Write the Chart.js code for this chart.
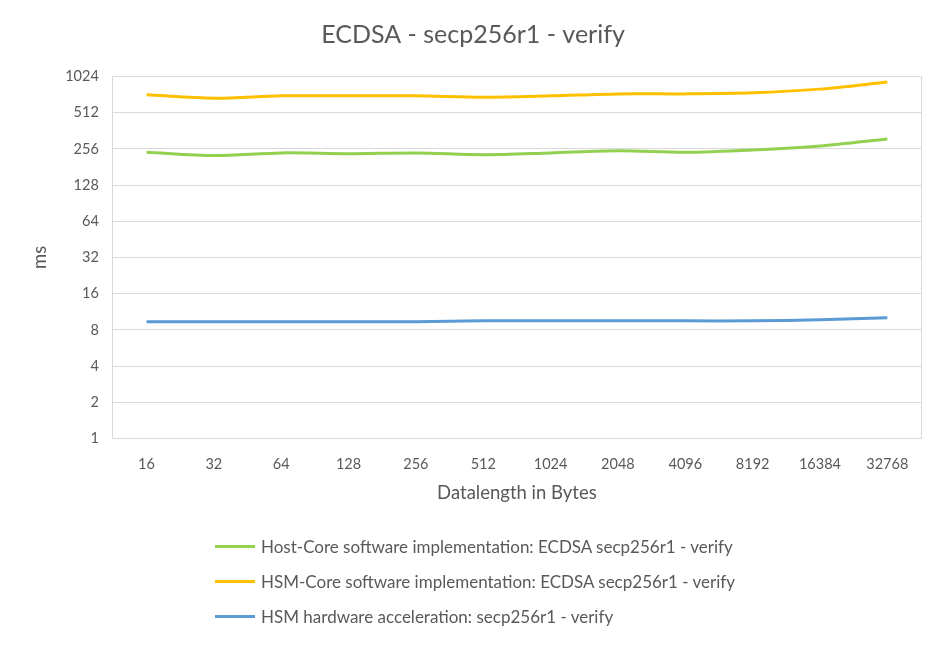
<!DOCTYPE html>
<html>
<head>
<meta charset="utf-8">
<script src="https://cdn.jsdelivr.net/npm/chart.js@4.4.1/dist/chart.umd.min.js"></script>
<style>
  html, body { margin: 0; padding: 0; background: #fff; }
  #wrap { position: relative; width: 944px; height: 645px; }
  #legend { position: absolute; left: 215px; top: 529px; font-family: Lato, sans-serif; font-size: 17px; color: #595959; }
  .item { height: 35px; display: flex; align-items: center; }
  .swatch { width: 40px; height: 3px; margin-right: 6px; }
</style>
</head>
<body>
<div id="wrap">
  <canvas id="myChart" width="944" height="645"></canvas>
  <div id="legend"></div>
</div>
<script>
// data
const labels = ["16", "32", "64", "128", "256", "512", "1024", "2048", "4096", "8192", "16384", "32768"];
const hostCore = [240, 225, 237, 233, 237, 229, 237, 247, 240, 251, 271, 310];
const hsmCore = [721, 676, 707, 707, 707, 689, 707, 734, 734, 749, 804, 920];
const hsmHw = [9.35, 9.35, 9.35, 9.35, 9.35, 9.5, 9.5, 9.5, 9.5, 9.5, 9.7, 10.1];
const yTicks = [1, 2, 4, 8, 16, 32, 64, 128, 256, 512, 1024];

const seriesNames = [
  "Host-Core software implementation: ECDSA secp256r1 - verify",
  "HSM-Core software implementation: ECDSA secp256r1 - verify",
  "HSM hardware acceleration: secp256r1 - verify",
];
const colors = ["#92D050", "#FFC000", "#5B9BD5"];

const textColor = "#595959";
const gridColor = "#D9D9D9";
const font = "Lato, sans-serif";

let ctx = document.getElementById("myChart").getContext("2d");
let myChart = new Chart(ctx, {
  type: "line",
  data: {
    labels: labels,
    datasets: [hostCore, hsmCore, hsmHw].map((d, i) => ({
      label: seriesNames[i],
      data: d,
      borderColor: colors[i],
      backgroundColor: colors[i],
      borderWidth: 3,
      pointRadius: 0,
      tension: 0.3,
    })),
  },
  options: {
    responsive: false,
    animation: false,
    layout: { padding: { top: 12, right: 23, bottom: 137, left: 25 } },
    plugins: {
      legend: { display: false },
      tooltip: { enabled: false },
      title: {
        display: true,
        text: "ECDSA - secp256r1 - verify",
        color: textColor,
        font: { family: font, size: 25, weight: "normal" },
        padding: { top: 8, bottom: 26.5 },
      },
    },
    scales: {
      x: {
        offset: true,
        grid: {
          offset: true,
          drawTicks: false,
          color: (c) => (c.type !== "tick" || c.index === 0 ? gridColor : "transparent"),
        },
        border: { color: gridColor },
        ticks: { color: textColor, padding: 17, font: { family: font, size: 14.5 }, maxRotation: 0, autoSkip: false },
        title: {
          display: true,
          text: "Datalength in Bytes",
          color: textColor,
          font: { family: font, size: 18.5 },
          padding: { top: -8, bottom: 4 },
        },
      },
      y: {
        type: "logarithmic",
        min: 1,
        max: 1024,
        afterBuildTicks: (axis) => {
          axis.ticks = yTicks.map((v) => ({ value: v }));
        },
        grid: { color: gridColor, drawTicks: false },
        border: { color: gridColor },
        ticks: {
          color: textColor,
          padding: 14,
          font: { family: font, size: 14.5 },
          callback: (v) => String(v),
        },
        title: {
          display: true,
          text: "ms",
          color: textColor,
          font: { family: font, size: 18.5 },
          padding: { top: 4, bottom: 0 },
        },
      },
    },
  },
});

// legend as plain html, left aligned like the reference
let legendBox = document.getElementById("legend");
myChart.data.datasets.forEach((ds) => {
  let row = document.createElement("div");
  row.className = "item";
  row.innerHTML = '<span class="swatch" style="background:' + ds.borderColor + '"></span>' + ds.label;
  legendBox.appendChild(row);
});
</script>
</body>
</html>
